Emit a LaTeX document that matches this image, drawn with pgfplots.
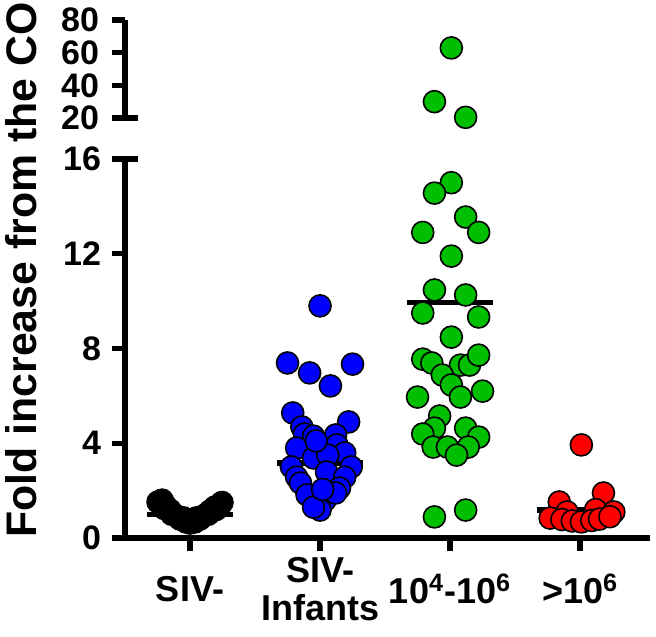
\documentclass[border=0pt]{standalone}
\usepackage{fontspec}
\setmainfont{Liberation Sans}
\usepackage{pgfplots}
\pgfplotsset{compat=1.18}
\definecolor{ggreen}{RGB}{0,190,0}
\definecolor{bblue}{RGB}{0,0,255}
\definecolor{rred}{RGB}{255,0,0}
\begin{document}
\begin{tikzpicture}
\pgfplotsset{
  common/.style={
    scale only axis, clip=false,
    xmin=0.5, xmax=4.538, width=262.5pt,
    axis line style={line width=2.6pt, black},
    every outer x axis line/.append style={line width=2.6pt},
    every outer y axis line/.append style={line width=2.6pt},
    major tick style={line width=2.6pt, black},
    tick align=outside, major tick length=6.5pt,
    /pgf/number format/assume math mode=true,
  },
  pt/.style={only marks, mark=*, mark size=5.5pt, mark options={draw=black, line width=0.8pt, fill=#1}},
  med/.style={black, line width=2.6pt, no marks},
}
% lower panel
\begin{axis}[common, at={(0,0)}, anchor=south west, height=189.5pt,
  ymin=0, ymax=16, ytick={0,4,8,12,16},
  axis lines*=left,
  yticklabel style={font=\fontsize{17}{19}\selectfont\bfseries, xshift=-2pt},
  xtick={1,2,3,4},
  xticklabels={SIV-, {SIV-\\Infants}, {10\textsuperscript{4}-10\textsuperscript{6}}, {>10\textsuperscript{6}}},
  xticklabel style={font=\fontsize{18}{19}\selectfont\bfseries, align=center, anchor=center, yshift=-19pt},
]
% SIV-
\addplot[pt=black] coordinates {
(0.754,1.52)(0.785,1.60)(0.808,1.39)(0.80,1.25)(0.846,1.18)(0.86,1.00)(0.885,0.97)
(0.923,0.80)(0.95,0.85)(0.969,0.68)(1.0,0.63)(1.0,0.75)(1.038,0.68)(1.05,0.85)
(1.077,0.80)(1.115,0.97)(1.14,1.00)(1.154,1.14)(1.20,1.20)(1.192,1.31)(1.231,1.39)(1.246,1.50)
};
\addplot[med] coordinates {(0.67,1.0) (1.33,1.0)};
% SIV- Infants
\addplot[pt=bblue] coordinates {
(2.00,9.8)(1.75,7.39)(2.25,7.34)(1.92,6.97)(2.08,6.42)
(1.79,5.28)(2.22,4.90)(1.86,4.69)(1.88,4.39)(1.95,4.30)(2.12,4.35)(2.13,3.93)
(1.82,3.80)(2.19,3.59)(1.95,3.38)(2.06,3.50)(1.78,3.00)(2.24,3.00)
(1.82,2.57)(1.85,2.32)(2.05,2.79)(2.19,2.57)(2.15,2.11)(1.90,1.82)
(2.04,1.60)(2.12,1.90)(2.00,1.18)(1.95,1.30)(2.02,2.05)(1.97,4.10)
};
\addplot[med] coordinates {(1.67,3.17) (2.33,3.17)};
% 10^4-10^6
\addplot[pt=ggreen] coordinates {
(3.01,15.0)(2.88,14.56)(3.12,13.55)(2.79,12.9)(3.22,12.9)(3.01,11.9)
(2.88,10.47)(3.12,10.26)(2.79,9.5)(3.22,9.33)(3.01,8.48)
(2.79,7.55)(2.86,7.39)(3.08,7.3)(3.15,7.3)(3.22,7.72)(2.94,6.88)(3.01,6.46)
(2.75,5.95)(3.08,5.95)(3.25,6.2)(2.92,5.15)(2.88,4.64)(2.79,4.39)(3.12,4.64)
(3.22,4.26)(2.87,3.84)(2.98,3.84)(3.14,3.84)(3.05,3.5)(2.88,0.89)(3.12,1.18)
};
\addplot[med] coordinates {(2.67,9.95) (3.33,9.95)};
% >10^6
\addplot[pt=rred] coordinates {
(4.01,3.93)(3.84,1.52)(4.18,1.90)(3.90,1.10)(4.12,1.20)(4.26,1.10)
(3.77,0.84)(3.86,0.78)(3.94,0.72)(4.01,0.68)(4.09,0.74)(4.15,0.80)(4.23,0.90)
};
\addplot[med] coordinates {(3.67,1.18) (4.33,1.18)};
\draw[line width=2.6pt] (axis cs:0.5,16) -- ([xshift=6.5pt]axis cs:0.5,16);
\end{axis}
% upper panel
\begin{axis}[common, at={(0,210pt)}, anchor=south west, height=49pt,
  ymin=20, ymax=80, ytick={20,40,60,80},
  yticklabel style={font=\fontsize{17}{18}\selectfont\bfseries, xshift=-3pt, inner ysep=0pt},
  axis x line=none, axis y line*=left, xtick=\empty,
]
\addplot[pt=ggreen] coordinates {(3.01,62.9)(2.88,30.0)(3.12,20.4)};
\draw[line width=2.6pt] (axis cs:0.5,20) -- ([xshift=6.5pt]axis cs:0.5,20);
\end{axis}
\node[rotate=90, anchor=base, font=\fontsize{21.4}{24}\selectfont\bfseries] at (-44pt,134pt) {Fold increase from the CO};
\pgfresetboundingbox
\path (-62.5pt,-49pt) rectangle (265.5pt,269pt);
\end{tikzpicture}
\end{document}
